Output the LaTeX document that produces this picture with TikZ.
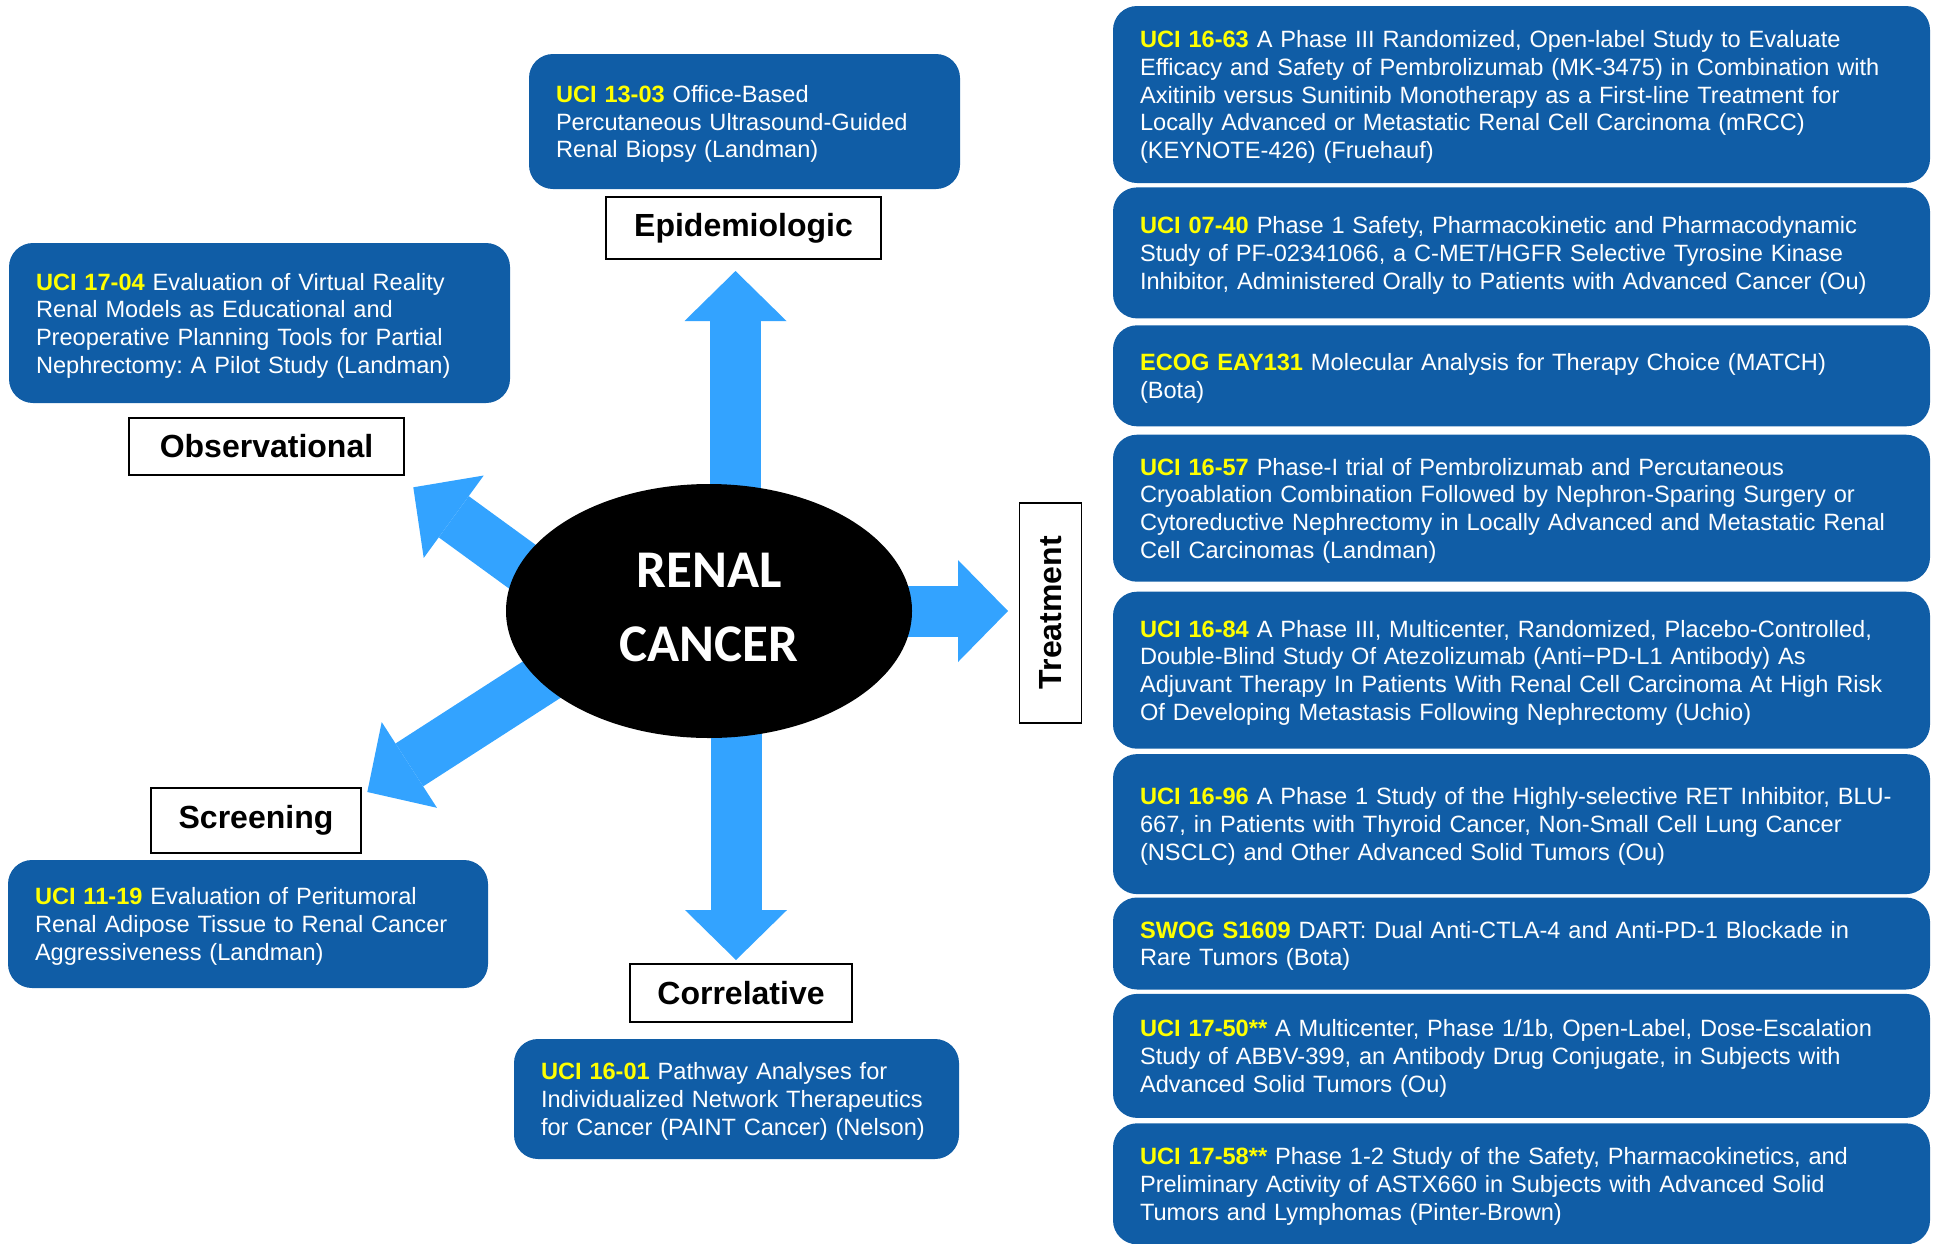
\documentclass[tikz,border=0pt]{standalone}
\usepackage{fontspec}
\setmainfont{Liberation Sans}
\newfontfamily\carlito{Carlito}
\usepackage{tikz}
\usetikzlibrary{arrows.meta,positioning,shapes.geometric,backgrounds}
\definecolor{trialblue}{RGB}{16,93,166}
\definecolor{arrowblue}{RGB}{51,163,255}
\definecolor{idyellow}{RGB}{255,255,0}
\newcommand{\trialid}[1]{\textbf{\color{idyellow}#1}}
\frenchspacing

\begin{document}
\begin{tikzpicture}[x=1pt,y=-1pt,
  trial/.style={rectangle,rounded corners=24pt,fill=trialblue,text=white,align=left,
    inner xsep=27pt,inner ysep=3pt,font=\fontsize{23.6}{27.7}\selectfont,
    execute at begin node=\rule{0pt}{22pt}},
  kind/.style={rectangle,draw=black,line width=1.8pt,fill=white,inner sep=0pt,
    font=\bfseries\fontsize{32}{36}\selectfont},
  bigarrow/.style={arrowblue,line width=51pt,-{Triangle[length=50pt,width=102pt,line width=0pt]}}]
  \useasboundingbox (0,0) rectangle (1937,1243);

  % centre
  \node[ellipse,fill=black,minimum width=406pt,minimum height=254pt,inner sep=0pt,text=white,
    align=center,font=\carlito\bfseries\fontsize{53}{74}\selectfont] (renal) at (709,611)
    {RENAL\\CANCER\rule[-7pt]{0pt}{7pt}};

  % category labels
  \node[kind,minimum width=275pt,minimum height=62pt] (epi) at (743.5,228) {Epidemiologic};
  \node[kind,minimum width=275pt,minimum height=57pt] (obs) at (266.5,446.5) {Observational};
  \node[kind,minimum width=210pt,minimum height=65pt] (scr) at (256,820.5) {Screening};
  \node[kind,minimum width=222pt,minimum height=58pt] (cor) at (741,993) {Correlative};
  \node[kind,rotate=90,minimum width=220pt,minimum height=62pt] (trt) at (1050.5,612.7) {Treatment};

  \coordinate (epiT) at (735.5,271);
  \coordinate (corT) at (736,960);
  \coordinate (trtT) at (1008,611);
  \coordinate (obsS) at (575,605);
  \coordinate (obsT) at (413.3,487.3);
  \coordinate (scrS) at (619.5,629.5);
  \coordinate (scrT) at (367.3,792);

  \begin{scope}[on background layer]
    \draw[bigarrow] ([xshift=26.5pt]renal.center) -- (epiT);
    \draw[bigarrow] ([xshift=27pt]renal.center) -- (corT);
    \draw[bigarrow] (renal.center) -- (trtT);
    \draw[bigarrow] (obsS) -- (obsT);
    \draw[bigarrow] (scrS) -- (scrT);
  \end{scope}

  % studies
  \node[trial,text width=377pt,minimum width=431pt,minimum height=135pt] (e1) at (744.5,121.5)
    {\trialid{UCI 13-03} Office-Based\\
     Percutaneous Ultrasound-Guided\\
     Renal Biopsy (Landman)};
  \node[trial,text width=447pt,minimum width=501pt,minimum height=160pt] (o1) at (259.5,323)
    {\trialid{UCI 17-04} Evaluation of Virtual Reality\\
     Renal Models as Educational and\\
     Preoperative Planning Tools for Partial\\
     Nephrectomy: A Pilot Study (Landman)};
  \node[trial,text width=426pt,minimum width=480pt,minimum height=128pt] (s1) at (248,924)
    {\trialid{UCI 11-19} Evaluation of Peritumoral\\
     Renal Adipose Tissue to Renal Cancer\\
     Aggressiveness (Landman)};
  \node[trial,text width=391pt,minimum width=445pt,minimum height=120pt] (c1) at (736.5,1099)
    {\trialid{UCI 16-01} Pathway Analyses for\\
     Individualized Network Therapeutics\\
     for Cancer (PAINT Cancer) (Nelson)};

  \node[trial,text width=763pt,minimum height=177pt] (t1) at (1521.5,94.5)
    {\trialid{UCI 16-63} A Phase III Randomized, Open-label Study to Evaluate\\
     Efficacy and Safety of Pembrolizumab (MK-3475) in Combination with\\
     Axitinib versus Sunitinib Monotherapy as a First-line Treatment for\\
     Locally Advanced or Metastatic Renal Cell Carcinoma (mRCC)\\
     (KEYNOTE-426) (Fruehauf)};
  \node[trial,text width=763pt,minimum height=131pt,below=4pt of t1] (t2)
    {\trialid{UCI 07-40} Phase 1 Safety, Pharmacokinetic and Pharmacodynamic\\
     Study of PF-02341066, a C-MET/HGFR Selective Tyrosine Kinase\\
     Inhibitor, Administered Orally to Patients with Advanced Cancer (Ou)};
  \node[trial,text width=763pt,minimum height=101pt,below=6.5pt of t2] (t3)
    {\trialid{ECOG EAY131} Molecular Analysis for Therapy Choice (MATCH)\\
     (Bota)};
  \node[trial,text width=763pt,minimum height=147pt,below=8pt of t3] (t4)
    {\trialid{UCI 16-57} Phase-I trial of Pembrolizumab and Percutaneous\\
     Cryoablation Combination Followed by Nephron-Sparing Surgery or\\
     Cytoreductive Nephrectomy in Locally Advanced and Metastatic Renal\\
     Cell Carcinomas (Landman)};
  \node[trial,text width=763pt,minimum height=157pt,below=9.6pt of t4] (t5)
    {\trialid{UCI 16-84} A Phase III, Multicenter, Randomized, Placebo-Controlled,\\
     Double-Blind Study Of Atezolizumab (Anti−PD-L1 Antibody) As\\
     Adjuvant Therapy In Patients With Renal Cell Carcinoma At High Risk\\
     Of Developing Metastasis Following Nephrectomy (Uchio)};
  \node[trial,text width=763pt,minimum height=140pt,below=5pt of t5] (t6)
    {\trialid{UCI 16-96} A Phase 1 Study of the Highly-selective RET Inhibitor, BLU-\\
     667, in Patients with Thyroid Cancer, Non-Small Cell Lung Cancer\\
     (NSCLC) and Other Advanced Solid Tumors (Ou)};
  \node[trial,text width=763pt,minimum height=92pt,below=3pt of t6] (t7)
    {\trialid{SWOG S1609} DART: Dual Anti-CTLA-4 and Anti-PD-1 Blockade in\\
     Rare Tumors (Bota)};
  \node[trial,text width=763pt,minimum height=124pt,below=4pt of t7] (t8)
    {\trialid{UCI 17-50**} A Multicenter, Phase 1/1b, Open-Label, Dose-Escalation\\
     Study of ABBV-399, an Antibody Drug Conjugate, in Subjects with\\
     Advanced Solid Tumors (Ou)};
  \node[trial,text width=763pt,minimum height=121pt,below=5pt of t8] (t9)
    {\trialid{UCI 17-58**} Phase 1-2 Study of the Safety, Pharmacokinetics, and\\
     Preliminary Activity of ASTX660 in Subjects with Advanced Solid\\
     Tumors and Lymphomas (Pinter-Brown)};
\end{tikzpicture}
\end{document}
